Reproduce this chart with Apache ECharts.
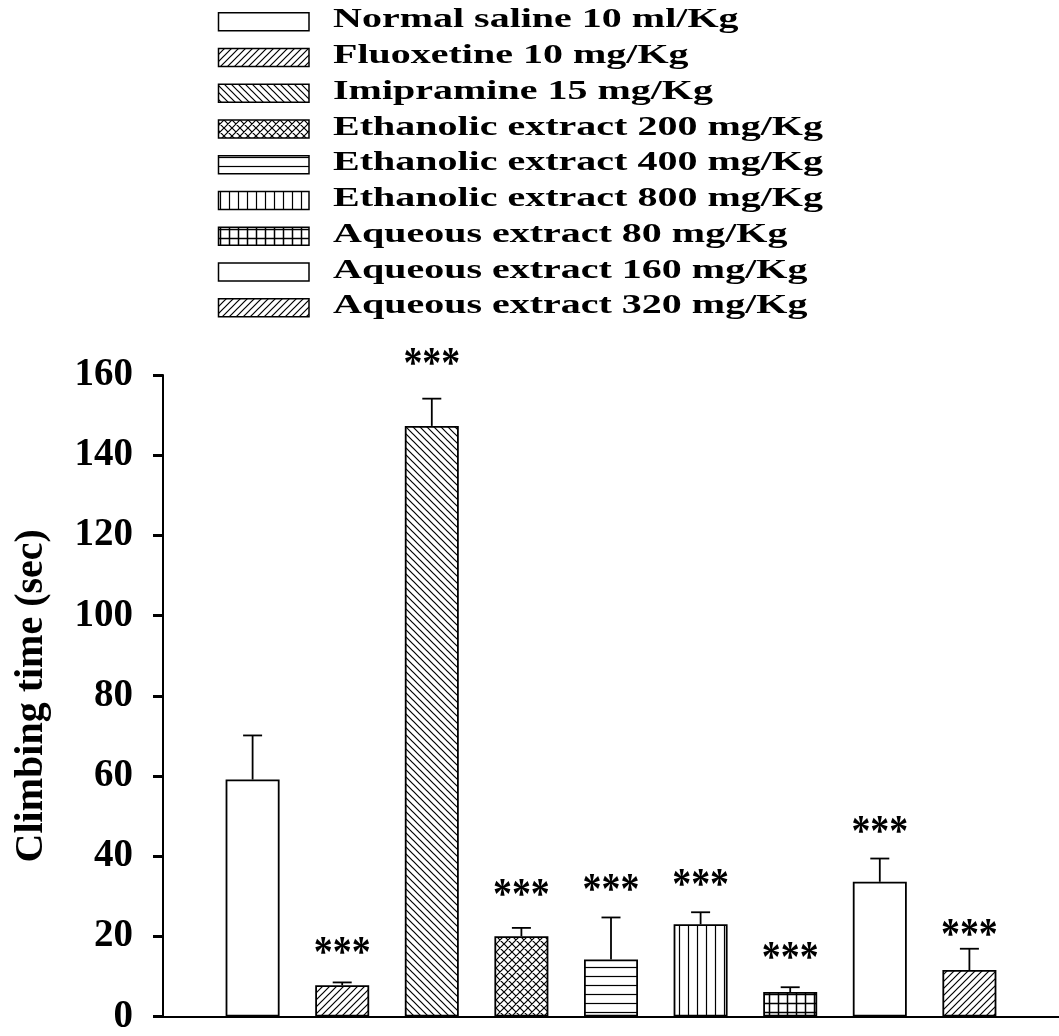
<!DOCTYPE html>
<html>
<head>
<meta charset="utf-8">
<script src="https://cdn.jsdelivr.net/npm/echarts@6/dist/echarts.min.js"></script>
<style>
html,body{margin:0;padding:0;background:#fff;}
#chart{width:1059px;height:1036px;}
</style>
</head>
<body>
<div id="chart"></div>
<script>
// ---- data ----
const groups = ['Normal saline 10 ml/Kg','Fluoxetine 10 mg/Kg','Imipramine 15 mg/Kg','Ethanolic extract 200 mg/Kg','Ethanolic extract 400 mg/Kg','Ethanolic extract 800 mg/Kg','Aqueous extract 80 mg/Kg','Aqueous extract 160 mg/Kg','Aqueous extract 320 mg/Kg'];
const positions = [1, 2, 3, 4, 5, 6, 7, 8, 9];
const means = [59.1, 7.8, 147.3, 20.0, 14.2, 23.0, 6.1, 33.6, 11.6];
const sems = [11.0, 0.7, 6.8, 2.1, 10.5, 3.0, 1.2, 5.8, 5.3];
const marks = ['', '***', '***', '***', '***', '***', '***', '***', '***'];
const markY = [0, 17.7, 164.7, 32.1, 33.4, 34.6, 16.4, 47.9, 22.2];
const fills = ['none','fwd','back','cross','horiz','vert','grid','none','fwd'];
const yTicks = [0, 20, 40, 60, 80, 100, 120, 140, 160];
const yTitle = 'Climbing time (sec)';

const FONT = 'Liberation Serif';

function makePattern(type) {
  if (type === 'none') return '#ffffff';
  const s = (type === 'fwd' || type === 'back') ? 7 : (type === 'cross' ? 8 : 9);
  const c = document.createElement('canvas');
  c.width = s; c.height = s;
  const g = c.getContext('2d');
  g.fillStyle = '#fff'; g.fillRect(0, 0, s, s);
  g.strokeStyle = '#000';
  g.lineWidth = (type === 'grid') ? 1.5 : 1.2;
  g.beginPath();
  const fwd = () => { g.moveTo(0, s); g.lineTo(s, 0); g.moveTo(-2, 2); g.lineTo(2, -2); g.moveTo(s - 2, s + 2); g.lineTo(s + 2, s - 2); };
  const back = () => { g.moveTo(0, 0); g.lineTo(s, s); g.moveTo(-2, s - 2); g.lineTo(2, s + 2); g.moveTo(s - 2, -2); g.lineTo(s + 2, 2); };
  if (type === 'fwd') fwd();
  if (type === 'back') back();
  if (type === 'cross') { fwd(); back(); }
  if (type === 'horiz' || type === 'grid') { g.moveTo(0, s / 2); g.lineTo(s, s / 2); }
  if (type === 'vert' || type === 'grid') { g.moveTo(s / 2, 0); g.lineTo(s / 2, s); }
  g.stroke();
  return { image: c, repeat: 'repeat' };
}

const patterns = fills.map(makePattern);

const barData = positions.map((x, i) => ({
  value: [x, means[i]],
  itemStyle: { color: patterns[i], borderColor: '#000', borderWidth: 1.8 }
}));
const errData = positions.map((x, i) => [x, means[i], means[i] + sems[i]]);
const markData = positions.map((x, i) => [x, markY[i], i]);

// legend built as graphic elements (text condensed vertically as in the reference)
const legendEls = [];
groups.forEach((name, i) => {
  const top = 12.7 + 35.75 * i;
  legendEls.push({
    type: 'rect', silent: true,
    shape: { x: 218.5, y: top, width: 90.5, height: 18 },
    style: { fill: patterns[i], stroke: '#000', lineWidth: 1.5 }
  });
  legendEls.push({
    type: 'text', silent: true,
    x: 333, y: top + 7.5, scaleY: 0.7,
    style: { text: name, fontFamily: FONT, fontSize: 40, fontWeight: 'bold', fill: '#000', verticalAlign: 'middle', align: 'left' }
  });
});

const chart = echarts.init(document.getElementById('chart'), null, { renderer: 'canvas' });
chart.setOption({
  animation: false,
  backgroundColor: '#fff',
  grid: { left: 163, top: 375, bottom: 19, width: 903, containLabel: false },
  xAxis: {
    type: 'value', min: 0, max: 10,
    axisLine: { show: true, onZero: false, lineStyle: { color: '#000', width: 2 } },
    axisTick: { show: false }, axisLabel: { show: false }, splitLine: { show: false }
  },
  yAxis: {
    type: 'value', min: yTicks[0], max: yTicks[yTicks.length - 1], interval: yTicks[1] - yTicks[0],
    name: yTitle, nameLocation: 'middle', nameGap: 111,
    nameTextStyle: { fontFamily: FONT, fontWeight: 'bold', fontSize: 40, color: '#000' },
    axisLine: { show: true, lineStyle: { color: '#000', width: 2 } },
    axisTick: { show: true, inside: false, length: 10, lineStyle: { color: '#000', width: 3 } },
    axisLabel: { margin: 30, fontFamily: FONT, fontWeight: 'bold', fontSize: 39, color: '#000' },
    splitLine: { show: false }
  },
  graphic: legendEls,
  series: [
    {
      type: 'bar', barWidth: 54, data: barData, z: 2
    },
    {
      type: 'custom', z: 3, data: errData,
      renderItem: function (params, api) {
        const x = api.value(0);
        const p0 = api.coord([x, api.value(1)]);
        const p1 = api.coord([x, api.value(2)]);
        const st = { stroke: '#000', lineWidth: 1.8 };
        return { type: 'group', children: [
          { type: 'line', shape: { x1: p0[0], y1: p0[1], x2: p1[0], y2: p1[1] }, style: st },
          { type: 'line', shape: { x1: p1[0] - 9.5, y1: p1[1], x2: p1[0] + 9.5, y2: p1[1] }, style: st }
        ]};
      }
    },
    {
      type: 'custom', z: 4, data: markData, clip: false,
      renderItem: function (params, api) {
        const i = api.value(2);
        const p = api.coord([api.value(0), api.value(1)]);
        return { type: 'text', x: p[0], y: p[1] + 9, scaleX: 0.86,
          style: { text: marks[i], fontFamily: FONT, fontSize: 44, fontWeight: 'bold', fill: '#000', align: 'center', verticalAlign: 'middle' } };
      }
    }
  ]
});
</script>
</body>
</html>
